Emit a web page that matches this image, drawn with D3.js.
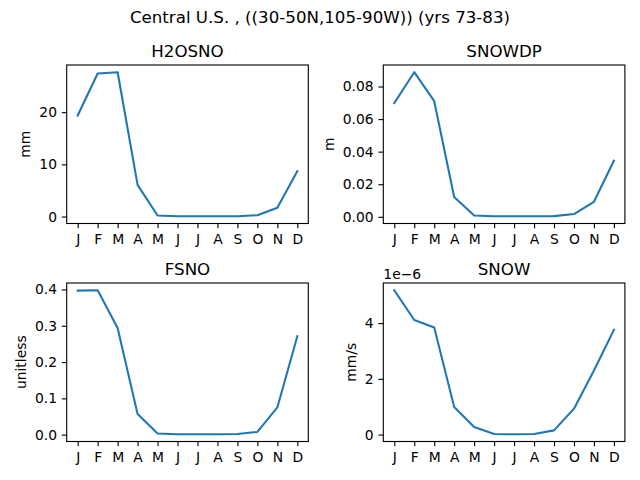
<!DOCTYPE html>
<html>
  <head>
    <meta charset="utf-8">
    <title>snow climatology</title>
    <style>
      body { margin: 0; background: #fff; }
      text { font-family: "DejaVu Sans", sans-serif; fill: #000; }
    </style>
  </head>
  <body>
    <div class="chart"></div>
    <script src="https://d3js.org/d3.v7.min.js"></script>
    <script>
        var months = ["J", "F", "M", "A", "M", "J", "J", "A", "S", "O", "N", "D"];
        var h2osno = [19.35, 27.4, 27.65, 6.07, 0.2, 0.05, 0.05, 0.05, 0.05, 0.25, 1.7, 8.7];
        var snowdp = [0.0698, 0.0888, 0.0710, 0.0121, 0.0008, 0.0003, 0.0003, 0.0003, 0.0004, 0.0017, 0.0092, 0.0345];
        var fsno = [0.397, 0.398, 0.294, 0.057, 0.003, 0.001, 0.001, 0.001, 0.002, 0.0075, 0.075, 0.271];
        var snow = [5.18e-6, 4.11e-6, 3.84e-6, 0.99e-6, 0.27e-6, 0.02e-6, 0.01e-6, 0.02e-6, 0.15e-6, 0.93e-6, 2.3e-6, 3.76e-6];
        var titles = ["H2OSNO", "SNOWDP", "FSNO", "SNOW"];
        var units = ["mm", "m", "unitless", "mm/s"];
        var ticksH2osno = [0, 10, 20];
        var ticksSnowdp = [0, 0.02, 0.04, 0.06, 0.08];
        var ticksFsno = [0, 0.1, 0.2, 0.3, 0.4];
        var ticksSnow = [0, 2e-6, 4e-6];
        var suptitle = "Central U.S. , ((30-50N,105-90W)) (yrs 73-83)";

        var w = 640, h = 480;
        var panels = [
            {values: h2osno, ticks: ticksH2osno, fmt: d3.format("d"), x: 66.7, y: 65},
            {values: snowdp, ticks: ticksSnowdp, fmt: d3.format(".2f"), x: 383.3, y: 65},
            {values: fsno, ticks: ticksFsno, fmt: d3.format(".1f"), x: 66.7, y: 283},
            {values: snow, ticks: ticksSnow, fmt: function(d) { return d3.format("d")(Math.round(d * 1e6)); }, x: 383.3, y: 283, offset: "1e\u22126"}
        ];
        var pw = 241.6, ph = 158.5;

        var svg = d3.select(".chart")
            .append("svg")
            .attr("width", w)
            .attr("height", h);

        svg.append("text")
            .attr("x", w / 2)
            .attr("y", 23)
            .attr("text-anchor", "middle")
            .style("font-size", "16.67px")
            .text(suptitle);

        panels.forEach(function(p, i) {
            var g = svg.append("g").attr("transform", "translate(" + p.x + "," + p.y + ")");

            var x = d3.scaleLinear().domain([-0.55, 11.55]).range([0, pw]);
            var lo = d3.min(p.values), hi = d3.max(p.values), pad = (hi - lo) * 0.05;
            var y = d3.scaleLinear().domain([lo - pad, hi + pad]).range([ph, 0]);

            var xAxis = d3.axisBottom(x)
                .tickValues(d3.range(months.length))
                .tickFormat(function(d) { return months[d]; })
                .tickSize(4.86).tickSizeOuter(0).tickPadding(4.86);
            var yAxis = d3.axisLeft(y)
                .tickValues(p.ticks)
                .tickFormat(p.fmt)
                .tickSize(4.86).tickSizeOuter(0).tickPadding(4.86);

            var gx = g.append("g").attr("transform", "translate(0," + ph + ")").call(xAxis);
            var gy = g.append("g").call(yAxis);
            [gx, gy].forEach(function(a) {
                a.select(".domain").remove();
                a.selectAll("line").attr("stroke", "#000").attr("stroke-width", 1.11);
                a.selectAll("text").attr("fill", "#000")
                    .style("font-family", "DejaVu Sans").style("font-size", "13.89px");
            });
            gx.selectAll("text").attr("dy", "0.76em");

            var line = d3.line()
                .x(function(d, j) { return x(j); })
                .y(function(d) { return y(d); });
            g.append("path")
                .datum(p.values)
                .attr("d", line)
                .attr("fill", "none")
                .attr("stroke", "#1f77b4")
                .attr("stroke-width", 2.08)
                .attr("stroke-linejoin", "round")
                .attr("stroke-linecap", "square");

            g.append("rect")
                .attr("width", pw).attr("height", ph)
                .attr("fill", "none").attr("stroke", "#000").attr("stroke-width", 1.11);

            g.append("text")
                .attr("x", pw / 2).attr("y", -8.33)
                .attr("text-anchor", "middle")
                .style("font-size", "16.67px")
                .text(titles[i]);

            // y label sits left of the widest tick label
            var minX = 0;
            gy.selectAll("text").each(function() {
                minX = Math.min(minX, this.getBBox().x);
            });
            var lx = minX - 5.56 - 3.3;
            g.append("text")
                .attr("transform", "translate(" + lx + "," + ph / 2 + ") rotate(-90)")
                .attr("text-anchor", "middle")
                .style("font-size", "13.89px")
                .text(units[i]);

            if (p.offset) {
                g.append("text")
                    .attr("x", 0).attr("y", -4)
                    .style("font-size", "13.89px")
                    .text(p.offset);
            }
        });
    </script>
  </body>
</html>
